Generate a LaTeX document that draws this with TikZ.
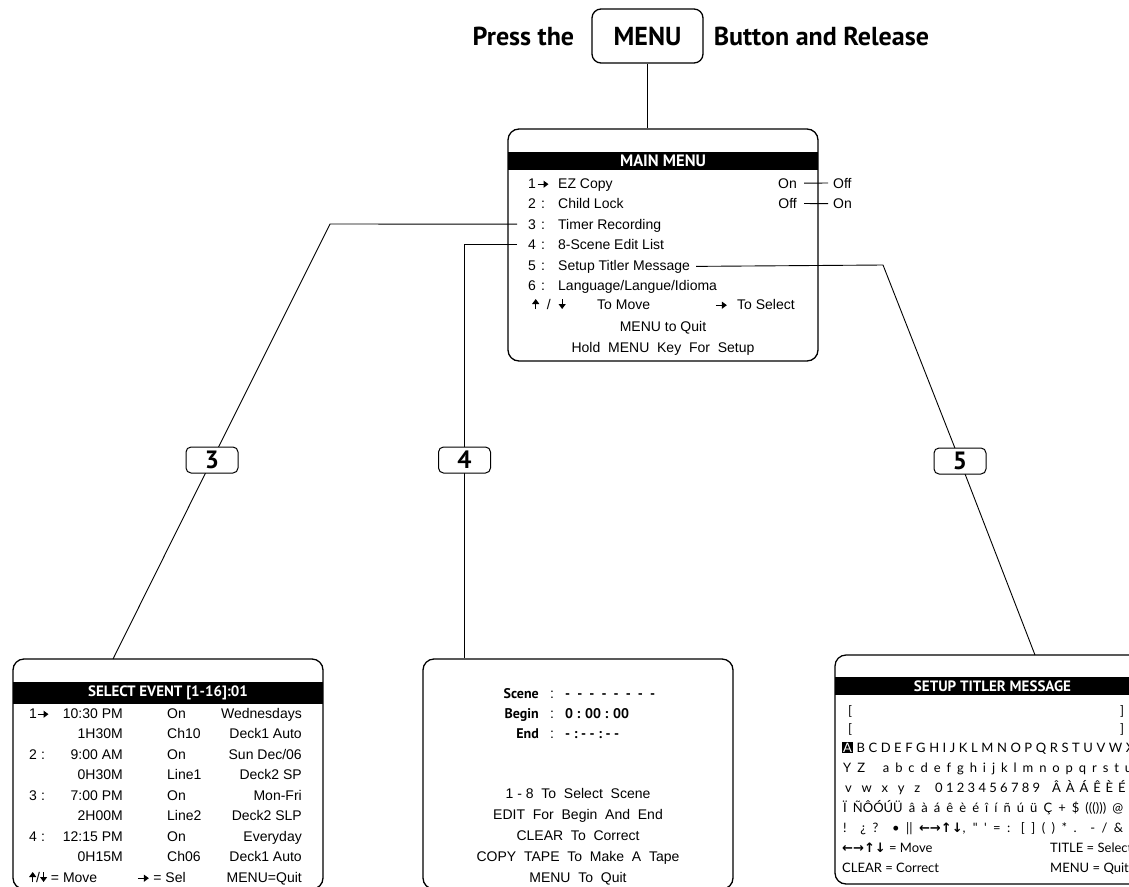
\documentclass[tikz,border=0pt]{standalone}
\usepackage{fontspec}
\setmainfont{Liberation Sans}
\newfontfamily\headfont{PT Sans}
\newfontfamily\titlerfont{Lato}[Ligatures=TeXOff]
\newfontfamily\symfont{DejaVu Sans}
\usetikzlibrary{positioning,arrows.meta,backgrounds}

% small screen arrows
\newcommand\rarr{\tikz[baseline=-3.8pt]\draw[line width=1.3pt,-{Triangle[length=5pt,width=7pt]}] (0pt,0pt) -- (11pt,0pt);}
\newcommand\uarr{\tikz[baseline=0pt]\draw[line width=1.1pt,-{Triangle[length=5pt,width=7pt]}] (0pt,0pt) -- (0pt,10pt);}
\newcommand\darr{\tikz[baseline=0pt]\draw[line width=1.1pt,-{Triangle[length=5pt,width=7pt]}] (0pt,10pt) -- (0pt,0pt);}
\newcommand\hl[1]{{\setlength\fboxsep{1pt}\colorbox{black}{\textcolor{white}{#1}}}}

\tikzset{
  screen/.style={draw, line width=1.3pt, rounded corners=11pt, inner sep=0pt},
  bar/.style={fill=black, text=white, inner sep=0pt, minimum height=18pt,
    font=\headfont\bfseries\fontsize{15}{15}\selectfont},
  btn/.style={draw, line width=1.3pt, rounded corners=9pt, minimum width=111pt,
    minimum height=54pt, inner sep=0pt, font=\headfont\bfseries\fontsize{26}{26}\selectfont},
  big/.style={inner sep=0pt, font=\headfont\bfseries\fontsize{26}{26}\selectfont},
  tag/.style={draw, fill=white, line width=1pt, rounded corners=5pt, minimum width=52pt,
    minimum height=26pt, inner sep=0pt, font=\headfont\bfseries\fontsize{25}{25}\selectfont},
  link/.style={line width=0.9pt},
  txt/.style={inner sep=0pt, font=\fontsize{14}{14}\selectfont},
  lbl/.style={inner sep=0pt, font=\headfont\bfseries\fontsize{14}{14}\selectfont},
  chr/.style={inner sep=0pt, anchor=base west, font=\titlerfont\fontsize{13}{13}\selectfont}
}

\begin{document}
\begin{tikzpicture}[x=1pt,y=-1pt]
\useasboundingbox (0,0) rectangle (1129,886);
\clip (0,0) rectangle (1129,886);

% press the menu button
\node[btn] (menubtn) at (647.5,36) {MENU};
\node[big, left=17pt of menubtn] (press) {Press the};
\node[big, right=10pt of menubtn] (release) {Button and Release};

% main menu
\node[screen, minimum width=310pt, minimum height=232pt] (mainmenu) at (663,245) {};
\node[bar, minimum width=310pt, font=\headfont\bfseries\fontsize{16.5}{16.5}\selectfont] (mmbar) at (663,160.5) {MAIN MENU};
\foreach \n/\s/\t [count=\i] in {1/\rarr/EZ Copy, 2/:/Child Lock, 3/:/Timer Recording,
  4/:/8-Scene Edit List, 5/:/Setup Titler Message, 6/:/{Language/Langue/Idioma}}
{
  \node[txt, anchor=base west] (n\n) at (528,167.5+20.5*\i) {\n};
  \node[txt, anchor=base] (s\n) at (543,167.5+20.5*\i) {\s};
  \node[txt, anchor=base west] (m\n) at (558,167.5+20.5*\i) {\t};
}
\node[txt, anchor=base east] (on1) at (797,188) {On};
\node[txt, anchor=base west] (off1) at (833,188) {Off};
\node[txt, anchor=base east] (on2) at (797,208.5) {Off};
\node[txt, anchor=base west] (off2) at (833,208.5) {On};
\draw[link] ([xshift=7pt]on1.east) -- ([xshift=-5pt]off1.west);
\draw[link] ([xshift=7pt]on2.east) -- ([xshift=-5pt]off2.west);
\node[txt, anchor=base west] (updown) at (532,309) {\uarr\ \ /\ \ \darr};
\node[txt, anchor=base west] (tomove) at (597,309) {To Move};
\node[txt, anchor=base west] (selarr) at (715,309) {\rarr};
\node[txt, anchor=base west] (tosel) at (737,309) {To Select};
\node[txt, anchor=base] (quit) at (663,331) {MENU to Quit};
\node[txt, anchor=base] (hold) at (663,352) {Hold\ \ MENU\ \ Key\ \ For\ \ Setup};

% select event
\node[screen, minimum width=310pt, minimum height=230pt] (event) at (168,774) {};
\node[bar, minimum width=310pt, minimum height=22pt] (evbar) at (168,693) {SELECT EVENT [1-16]:01};
\foreach \n/\s/\t/\c/\d [count=\i from 0] in {1/\rarr/10:30 PM/On/Wednesdays,
  {}/{}/1H30M/Ch10/Deck1 Auto, 2/:/9:00 AM/On/{Sun Dec/06}, {}/{}/0H30M/Line1/Deck2 SP,
  3/:/7:00 PM/On/Mon-Fri, {}/{}/2H00M/Line2/Deck2 SLP, 4/:/12:15 PM/On/Everyday,
  {}/{}/0H15M/Ch06/Deck1 Auto}
{
  \node[txt, anchor=base west] (evn\i) at (29,718+20.5*\i) {\n};
  \node[txt, anchor=base] (evs\i) at (43,718+20.5*\i) {\s};
  \node[txt, anchor=base east] (evt\i) at (123,718+20.5*\i) {\t};
  \node[txt, anchor=base west] (evc\i) at (167,718+20.5*\i) {\c};
  \node[txt, anchor=base east] (evd\i) at (302,718+20.5*\i) {\d};
}
\node[txt, anchor=base west] (evmove) at (29,882) {\uarr/\darr\ = Move};
\node[txt, anchor=base west] (evsel) at (137,882) {\rarr\ = Sel};
\node[txt, anchor=base east] (evquit) at (302,882) {MENU=Quit};

% scene edit list
\node[screen, minimum width=310pt, minimum height=230pt] (scene) at (578,774) {};
\foreach \l/\v [count=\i from 0] in {Scene/{-\ \ -\ \ -\ \ -\ \ -\ \ -\ \ -\ \ -},
  Begin/{0 : 00 : 00}, End/{-\ :\ -\ -\ :\ -\ -}}
{
  \node[lbl, anchor=base east] (sl\i) at (539,698+20*\i) {\l};
  \node[txt, anchor=base] (sc\i) at (552,698+20*\i) {:};
  \node[lbl, anchor=base west] (sv\i) at (565,698+20*\i) {\v};
}
\foreach \t [count=\i from 0] in {1 - 8\ \ To\ \ Select\ \ Scene, EDIT\ \ For\ \ Begin\ \ And\ \ End,
  CLEAR\ \ To\ \ Correct, COPY\ \ TAPE\ \ To\ \ Make\ \ A\ \ Tape, MENU\ \ To\ \ Quit}
  \node[txt, anchor=base] (sh\i) at (578,798+21*\i) {\t};

% setup titler message
\node[screen, minimum width=315pt, minimum height=229pt] (titler) at (992.5,769.5) {};
\node[bar, minimum width=315pt] (tibar) at (992.5,686) {SETUP TITLER MESSAGE};
\node[chr] (lb1) at (848,715) {[};
\node[chr] (lb2) at (848,733) {[};
\node[chr] (rb1) at (1120,715) {]};
\node[chr] (rb2) at (1120,733) {]};
\node[chr] (row1) at (842,752) {\makebox[292pt][s]{\hl{A} B C D E F G H I J K L M N O P Q R S T U V W X}};
\node[chr] (row2) at (843,772) {\makebox[289pt][s]{Y Z\ \ \ a b c d e f g h i j k l m n o p q r s t u}};
\node[chr] (row3a) at (845,792) {\makebox[75pt][s]{v w x y z}};
\node[chr] (row3b) at (935,792) {\makebox[105pt][s]{0 1 2 3 4 5 6 7 8 9}};
\node[chr] (row3c) at (1052,792) {\makebox[82pt][s]{Â À Á Ê È É Î}};
\node[chr] (row4) at (843,812) {\makebox[280pt][s]{Ï ÑÔÓÚÜ â à á ê è é î í ñ ú ü Ç + \$ ((())) @}};
\node[chr] (row5) at (843,832) {\makebox[280pt][s]{! ¿ ? • || {\symfont\bfseries ←→↑↓}, " ' = : [ ] ( ) * . - / \&}};
\node[chr] (ttmove) at (842,852) {{\symfont\bfseries ←→↑↓} = Move};
\node[chr] (ttsel) at (1050,852) {TITLE = Select};
\node[chr] (ttclr) at (842,872) {CLEAR = Correct};
\node[chr] (ttquit) at (1050,872) {MENU = Quit};

% number tags
\node[tag] (tag3) at (212,460) {3};
\node[tag] (tag4) at (464.5,460) {4};
\node[tag] (tag5) at (960,461) {5};

% connectors
\coordinate (b3) at (330,224);
\coordinate (e3) at (113,659);
\coordinate (b5) at (883,265);
\coordinate (e5) at (1035,655);
\begin{scope}[on background layer]
  \draw[link] (menubtn) -- (menubtn |- mainmenu.north);
  \draw[link] ([xshift=-11pt]n3.west) -- (b3) -- (tag3.center) -- (e3);
  \draw[link] ([xshift=-11pt]n4.west) -- (tag4 |- n4.west) -- (tag4.center) -- (tag4 |- scene.north);
  \draw[link] ([xshift=6pt]m5.east) -- (b5) -- (tag5.center) -- (e5);
\end{scope}
\end{tikzpicture}
\end{document}
